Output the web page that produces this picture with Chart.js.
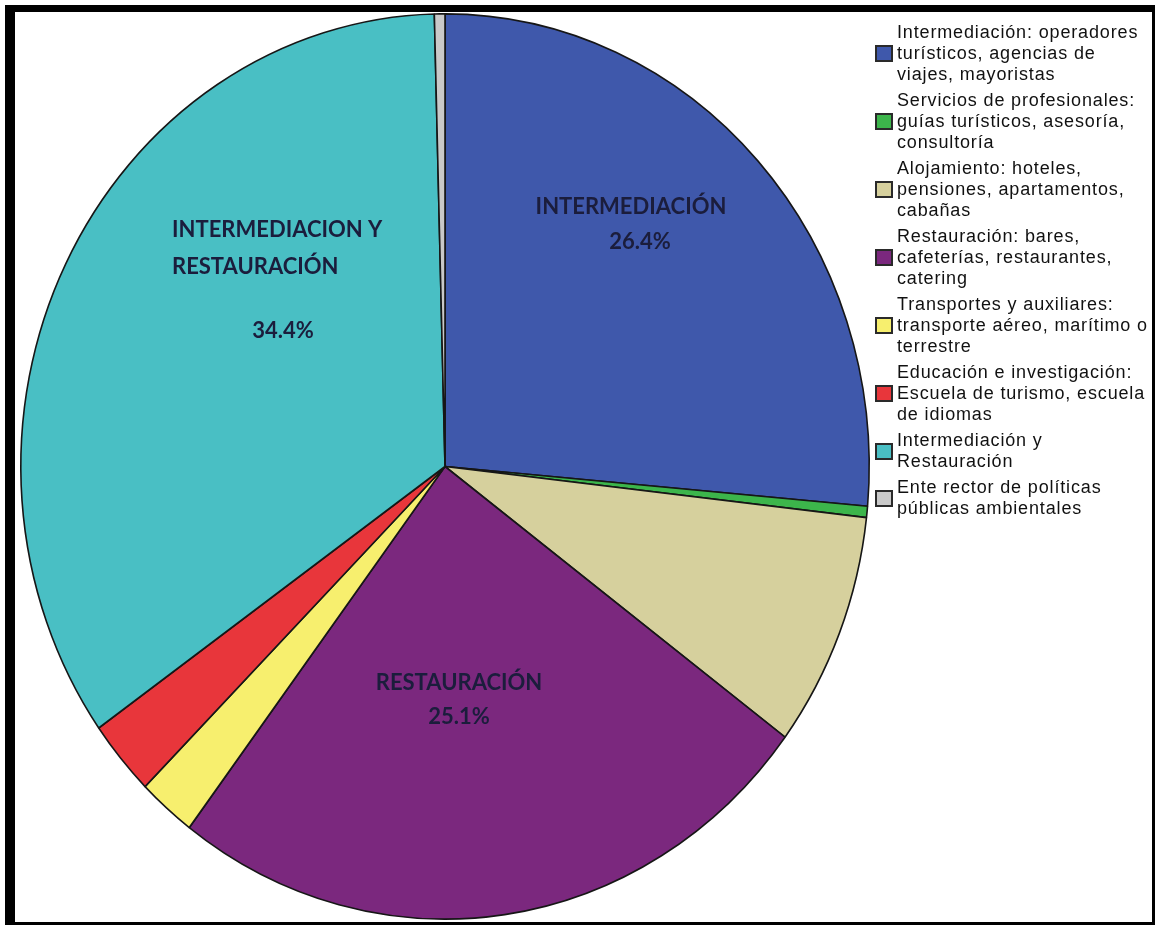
<!DOCTYPE html>
<html>
<head>
<meta charset="utf-8">
<script src="https://cdn.jsdelivr.net/npm/chart.js@4"></script>
<style>
  html, body { margin: 0; padding: 0; background: #fff; }
  #wrap { position: relative; width: 1158px; height: 926px; overflow: hidden; }
  #myChart { position: absolute; left: 0; top: 0; }
  #frame {
    position: absolute; left: 5px; top: 5px; width: 1150px; height: 920px;
    box-sizing: border-box; pointer-events: none;
    border-style: solid; border-color: #000;
    border-width: 7px 3px 3px 10px;
  }
  #legend {
    position: absolute; left: 875px; top: 22px;
    font-family: "Liberation Sans", Arial, sans-serif; font-size: 18px;
    line-height: 21px; color: #111;
  }
  .item { display: flex; align-items: center; margin-bottom: 5px; }
  .box {
    width: 14px; height: 13px; border: 2px solid #2a2a2a; margin-right: 4px;
    flex: none;
  }
  .txt { white-space: nowrap; letter-spacing: 0.85px; }
</style>
</head>
<body>
<div id="wrap">
  <canvas id="myChart" width="1158" height="926"></canvas>
  <div id="legend"></div>
  <div id="frame"></div>
</div>
<script>
// sector labels, one line per array entry
const categories = [
  ['Intermediación: operadores', 'turísticos, agencias de', 'viajes, mayoristas'],
  ['Servicios de profesionales:', 'guías turísticos, asesoría,', 'consultoría'],
  ['Alojamiento: hoteles,', 'pensiones, apartamentos,', 'cabañas'],
  ['Restauración: bares,', 'cafeterías, restaurantes,', 'catering'],
  ['Transportes y auxiliares:', 'transporte aéreo, marítimo o', 'terrestre'],
  ['Educación e investigación:', 'Escuela de turismo, escuela', 'de idiomas'],
  ['Intermediación y', 'Restauración'],
  ['Ente rector de políticas', 'públicas ambientales'],
];

// share of each sector, percent
const shares = [26.4, 0.4, 8.4, 25.1, 2.2, 2.7, 34.4, 0.4];

const colors = [
  '#3f58ab', '#3cb54b', '#d6d09d', '#7b287e',
  '#f7ef6e', '#e8363b', '#49bfc4', '#c9c9c9',
];

// big captions written inside some slices
const sliceCaptions = [
  { index: 0, lines: ['INTERMEDIACIÓN'] },
  { index: 6, lines: ['INTERMEDIACION Y', 'RESTAURACIÓN'] },
  { index: 3, lines: ['RESTAURACIÓN'] },
];

// where the captions go, relative to the pie centre
const captionLayout = {
  0: { x: 186, y: -260, align: 'center', pctX: 195, pctY: -225 },
  6: { x: -273, y: -237, align: 'left', pctX: -162, pctY: -136 },
  3: { x: 14, y: 216, align: 'center', pctX: 14, pctY: 250 },
};

const squash = 453.5 / 425; // pie is a bit taller than wide

const ovalPie = {
  id: 'ovalPie',
  beforeDatasetsDraw(chart) {
    const arc = chart.getDatasetMeta(0).data[0];
    const ctx = chart.ctx;
    ctx.save();
    ctx.translate(arc.x, arc.y);
    ctx.scale(1, squash);
    ctx.translate(-arc.x, -arc.y);
  },
  afterDatasetsDraw(chart) {
    chart.ctx.restore();
  },
};

const captions = {
  id: 'captions',
  afterDraw(chart) {
    const ctx = chart.ctx;
    const arc = chart.getDatasetMeta(0).data[0];
    const values = chart.data.datasets[0].data;
    ctx.save();
    ctx.font = 'bold 22px Lato, "Open Sans", sans-serif';
    ctx.fillStyle = '#1b1d3c';
    ctx.textBaseline = 'middle';
    sliceCaptions.forEach((c) => {
      const pos = captionLayout[c.index];
      ctx.textAlign = pos.align;
      c.lines.forEach((line, i) => {
        ctx.fillText(line, arc.x + pos.x, arc.y + pos.y + i * 37);
      });
      ctx.textAlign = 'center';
      ctx.fillText(values[c.index].toFixed(1) + '%', arc.x + pos.pctX, arc.y + pos.pctY);
    });
    ctx.restore();
  },
};

const chartConfig = {
  type: 'pie',
  data: {
    labels: categories.map((x) => x.join(' ')),
    datasets: [
      {
        data: shares,
        backgroundColor: colors,
        borderColor: '#161616',
        borderWidth: 1.6,
      },
    ],
  },
  options: {
    responsive: false,
    animation: false,
    layout: {
      padding: { left: 20, right: 288, top: 41, bottom: 34 },
    },
    plugins: {
      legend: { display: false },
      tooltip: { enabled: false },
    },
  },
  plugins: [ovalPie, captions],
};

const myChart = new Chart(document.getElementById('myChart'), chartConfig);

// legend on the right, one box per sector
const legendEl = document.getElementById('legend');
categories.forEach((lines, i) => {
  const item = document.createElement('div');
  item.className = 'item';
  const box = document.createElement('div');
  box.className = 'box';
  box.style.background = colors[i];
  const txt = document.createElement('div');
  txt.className = 'txt';
  txt.innerHTML = lines.join('<br>');
  item.appendChild(box);
  item.appendChild(txt);
  legendEl.appendChild(item);
});
</script>
</body>
</html>
